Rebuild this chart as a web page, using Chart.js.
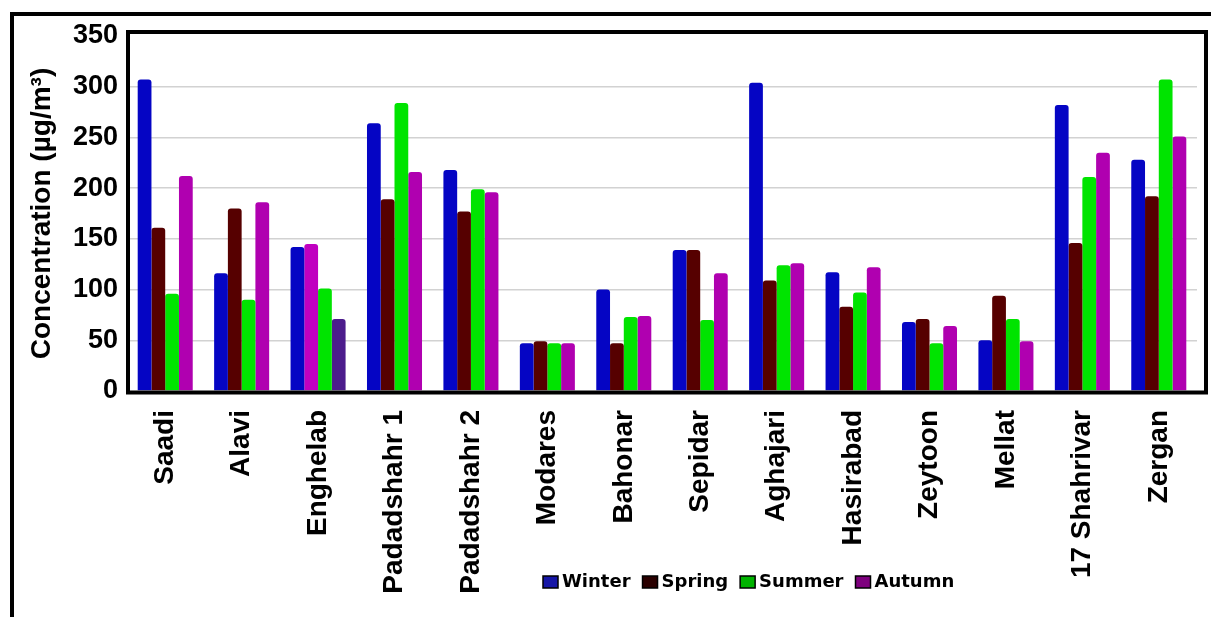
<!DOCTYPE html>
<html>
<head>
<meta charset="utf-8">
<script src="https://cdn.jsdelivr.net/npm/chart.js@4"></script>
<style>
  html,body{margin:0;padding:0;background:#fff;}
  #wrap{width:1211px;height:617px;position:relative;}
</style>
</head>
<body>
<div id="wrap"><canvas id="c" width="1211" height="617"></canvas></div>
<script>
const categories = ['Saadi','Alavi','Enghelab','Padadshahr 1','Padadshahr 2','Modares','Bahonar','Sepidar','Aghajari','Hasirabad','Zeytoon','Mellat','17 Shahrivar','Zergan'];
const winter = [307,116,142,264,218,47,100,139,304,117,68,50,282,228];
const spring = [161,180,145,189,177,49,47,139,109,83,71,94,146,192];
const summer = [96,90,101,284,199,47,73,70,124,97,47,71,211,307];
const autumn = [212,186,71,216,196,47,74,116,126,122,64,49,235,251];
const seriesNames = ['Winter','Spring','Summer','Autumn'];
const yTicks = [0,50,100,150,200,250,300,350];

const barColors = ['#0505c4','#560000','#00e400','#b000b0'];
const legendColors = ['#1616a6','#2a0000','#00b400','#7e007e'];
// Enghelab bars drawn in different colours in the original
const springColors = categories.map((c,i)=> i===2 ? '#c000c0' : barColors[1]);
const autumnColors = categories.map((c,i)=> i===2 ? '#4c1c8c' : barColors[3]);

const FONT = "'Liberation Sans', Arial, sans-serif";

const framePlugin = {
  id:'frame',
  beforeDraw(chart){
    const ctx = chart.ctx;
    ctx.save();
    ctx.fillStyle = '#fff';
    ctx.fillRect(0,0,chart.width,chart.height);
    ctx.strokeStyle = '#000';
    ctx.lineWidth = 4;
    ctx.beginPath();
    ctx.moveTo(12, 617);
    ctx.lineTo(12, 14);
    ctx.lineTo(1211, 14);
    ctx.stroke();
    ctx.restore();
  },
  afterDraw(chart){
    const ctx = chart.ctx;
    const a = chart.chartArea;
    ctx.save();
    ctx.strokeStyle = '#000';
    ctx.lineWidth = 4;
    ctx.strokeRect(128, 32, 1206 - 128, a.bottom + 1.5 - 32);
    // custom legend
    ctx.font = "bold 18px 'DejaVu Sans', sans-serif";
    ctx.textBaseline = 'middle';
    ctx.textAlign = 'left';
    let x = 543;
    const y = 582;
    chart.data.datasets.forEach((ds,i)=>{
      ctx.fillStyle = legendColors[i];
      ctx.fillRect(x, y-6, 15, 12);
      ctx.lineWidth = 1.5;
      ctx.strokeStyle = '#000';
      ctx.strokeRect(x, y-6, 15, 12);
      ctx.fillStyle = '#000';
      ctx.fillText(ds.label, x+19, y);
      x += 19 + ctx.measureText(ds.label).width + 12;
    });
    ctx.restore();
  }
};

new Chart(document.getElementById('c'), {
  type:'bar',
  data:{
    labels: categories,
    datasets:[
      {label:seriesNames[0], data:winter, backgroundColor:barColors[0]},
      {label:seriesNames[1], data:spring, backgroundColor:springColors},
      {label:seriesNames[2], data:summer, backgroundColor:barColors[2]},
      {label:seriesNames[3], data:autumn, backgroundColor:autumnColors}
    ]
  },
  options:{
    responsive:false,
    animation:false,
    layout:{padding:{left:0,top:36,right:14,bottom:0}},
    datasets:{bar:{categoryPercentage:0.72, barPercentage:1.0, borderRadius:{topLeft:3,topRight:3}, borderSkipped:'bottom'}},
    plugins:{legend:{display:false}, tooltip:{enabled:false}},
    scales:{
      x:{
        grid:{display:false, drawTicks:false},
        border:{display:false},
        ticks:{autoSkip:false, minRotation:90, maxRotation:90, padding:19, color:'#000',
               font:{family:FONT, weight:'bold', size:28}},
        afterFit(s){ s.height = 226; s.paddingRight = 0; }
      },
      y:{
        min:0, max:350,
        afterBuildTicks(s){ s.ticks = yTicks.map(v=>({value:v})); },
        grid:{drawTicks:false, lineWidth:1.5,
              color:(c)=> (c.tick && (c.tick.value===0 || c.tick.value===350)) ? 'rgba(0,0,0,0)' : '#d2d2d2'},
        border:{display:false},
        ticks:{padding:9, color:'#000', font:{family:FONT, weight:'bold', size:27}},
        title:{display:true, text:'Concentration (µg/m³)', color:'#000', padding:{top:25,bottom:0},
               font:{family:FONT, weight:'bold', size:28}},
        afterFit(s){ s.width = 127; }
      }
    }
  },
  plugins:[framePlugin]
});
</script>
</body>
</html>
